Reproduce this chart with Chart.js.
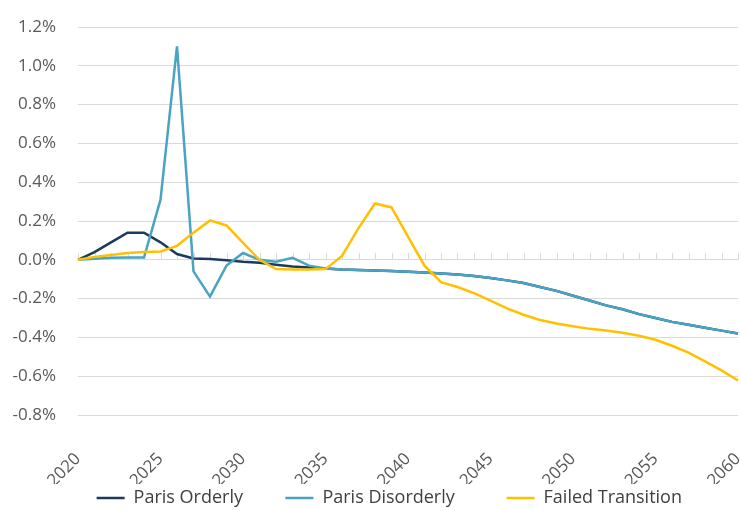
<!DOCTYPE html>
<html>
<head>
<meta charset="utf-8">
<script src="https://cdn.jsdelivr.net/npm/chart.js@4"></script>
<style>
    html, body { margin: 0; padding: 0; background: #fff; }
    #wrap { width: 741px; height: 511px; }
</style>
</head>
<body>
<div id="wrap"><canvas id="chart" width="741" height="511"></canvas></div>
<script>
// Years on the x axis (one point per year)
const years = [];
for (let y = 2020; y <= 2060; y++) years.push(String(y));

// Values in percent
const parisOrderly = [0.00, 0.04, 0.09, 0.14, 0.14, 0.09, 0.03, 0.007, 0.004, -0.002, -0.01,
    -0.015, -0.025, -0.035, -0.04, -0.045, -0.05, -0.052, -0.055, -0.058, -0.062,
    -0.066, -0.07, -0.076, -0.084, -0.094, -0.106, -0.12, -0.14, -0.16, -0.185,
    -0.21, -0.235, -0.255, -0.28, -0.30, -0.32, -0.335, -0.35, -0.365, -0.38];

const parisDisorderly = [0.00, 0.005, 0.01, 0.012, 0.012, 0.31, 1.10, -0.06, -0.19, -0.03, 0.035,
    0.00, -0.01, 0.01, -0.03, -0.045, -0.05, -0.052, -0.055, -0.058, -0.062,
    -0.066, -0.07, -0.076, -0.084, -0.094, -0.106, -0.12, -0.14, -0.16, -0.185,
    -0.21, -0.235, -0.255, -0.28, -0.30, -0.32, -0.335, -0.35, -0.365, -0.38];

const failedTransition = [0.00, 0.015, 0.025, 0.035, 0.04, 0.043, 0.072, 0.14, 0.203, 0.177, 0.087,
    0.00, -0.048, -0.05, -0.05, -0.048, 0.02, 0.163, 0.29, 0.27, 0.12,
    -0.03, -0.115, -0.14, -0.172, -0.21, -0.25, -0.283, -0.31, -0.328, -0.343,
    -0.356, -0.364, -0.376, -0.392, -0.412, -0.443, -0.478, -0.524, -0.57, -0.622];

const seriesNames = ["Paris Orderly", "Paris Disorderly", "Failed Transition"];
const seriesColors = ["#1b3a5c", "#4aa3c2", "#ffc000"];
// extra space after each legend entry (wide gaps, and nudges the row off-centre like the original)
const legendGaps = [8, 10, 8];

const fontFamily = "'Open Sans', 'Noto Sans', sans-serif";
const gridColor = "#d9d9d9";

// small tick marks sitting on the zero line, one per year
const zeroTicks = {
    id: "zeroTicks",
    beforeDatasetsDraw(chart) {
        const xs = chart.scales.x, ys = chart.scales.y;
        const y0 = ys.getPixelForValue(0);
        const ctx = chart.ctx;
        ctx.save();
        ctx.strokeStyle = gridColor;
        ctx.lineWidth = 1;
        ctx.beginPath();
        for (let i = 0; i < years.length; i++) {
            const x = Math.round(xs.getPixelForValue(i)) + 0.5;
            ctx.moveTo(x, y0);
            ctx.lineTo(x, y0 - 7);
        }
        ctx.stroke();
        ctx.restore();
    }
};

const ctx = document.getElementById("chart").getContext("2d");
new Chart(ctx, {
    type: "line",
    data: {
        labels: years,
        datasets: [
            { label: seriesNames[0], data: parisOrderly, borderColor: seriesColors[0], backgroundColor: seriesColors[0], order: 2 },
            { label: seriesNames[1], data: parisDisorderly, borderColor: seriesColors[1], backgroundColor: seriesColors[1], order: 1 },
            { label: seriesNames[2], data: failedTransition, borderColor: seriesColors[2], backgroundColor: seriesColors[2], order: 0 }
        ].map(d => Object.assign(d, { borderWidth: 2.5, pointRadius: 0, tension: 0, fill: false }))
    },
    options: {
        responsive: false,
        animation: false,
        layout: { padding: { top: 27, right: 3, left: 0, bottom: -6 } },
        plugins: {
            tooltip: { enabled: false },
            legend: {
                position: "bottom",
                fullSize: false,
                labels: {
                    usePointStyle: true,
                    pointStyle: "line",
                    pointStyleWidth: 28,
                    boxHeight: 3,
                    padding: 5,
                    color: "#404040",
                    font: { family: fontFamily, size: 18 },
                    sort: (a, b) => a.datasetIndex - b.datasetIndex,
                    generateLabels: function (chart) {
                        const items = Chart.defaults.plugins.legend.labels.generateLabels(chart);
                        items.forEach(it => { it.text = it.text + " ".repeat(legendGaps[it.datasetIndex]); });
                        return items;
                    }
                }
            }
        },
        scales: {
            x: {
                offset: false,
                grid: { display: false },
                border: { display: false },
                ticks: {
                    autoSkip: false,
                    minRotation: 45,
                    maxRotation: 45,
                    color: "#595959",
                    font: { family: fontFamily, size: 17 },
                    padding: 26,
                    callback: function (value) {
                        const y = years[value];
                        return Number(y) % 5 === 0 ? y : "";
                    }
                },
                afterFit: s => { s.height = 69; s.paddingRight = 0; s.paddingLeft = 0; }
            },
            y: {
                min: -0.8,
                max: 1.2,
                grid: { color: gridColor, drawTicks: false },
                border: { display: false },
                ticks: {
                    stepSize: 0.2,
                    color: "#595959",
                    font: { family: fontFamily, size: 17 },
                    padding: 22,
                    callback: v => v.toFixed(1) + "%"
                },
                afterFit: s => { s.width = 78; s.paddingTop = 0; s.paddingBottom = 0; }
            }
        }
    },
    plugins: [zeroTicks]
});
</script>
</body>
</html>
